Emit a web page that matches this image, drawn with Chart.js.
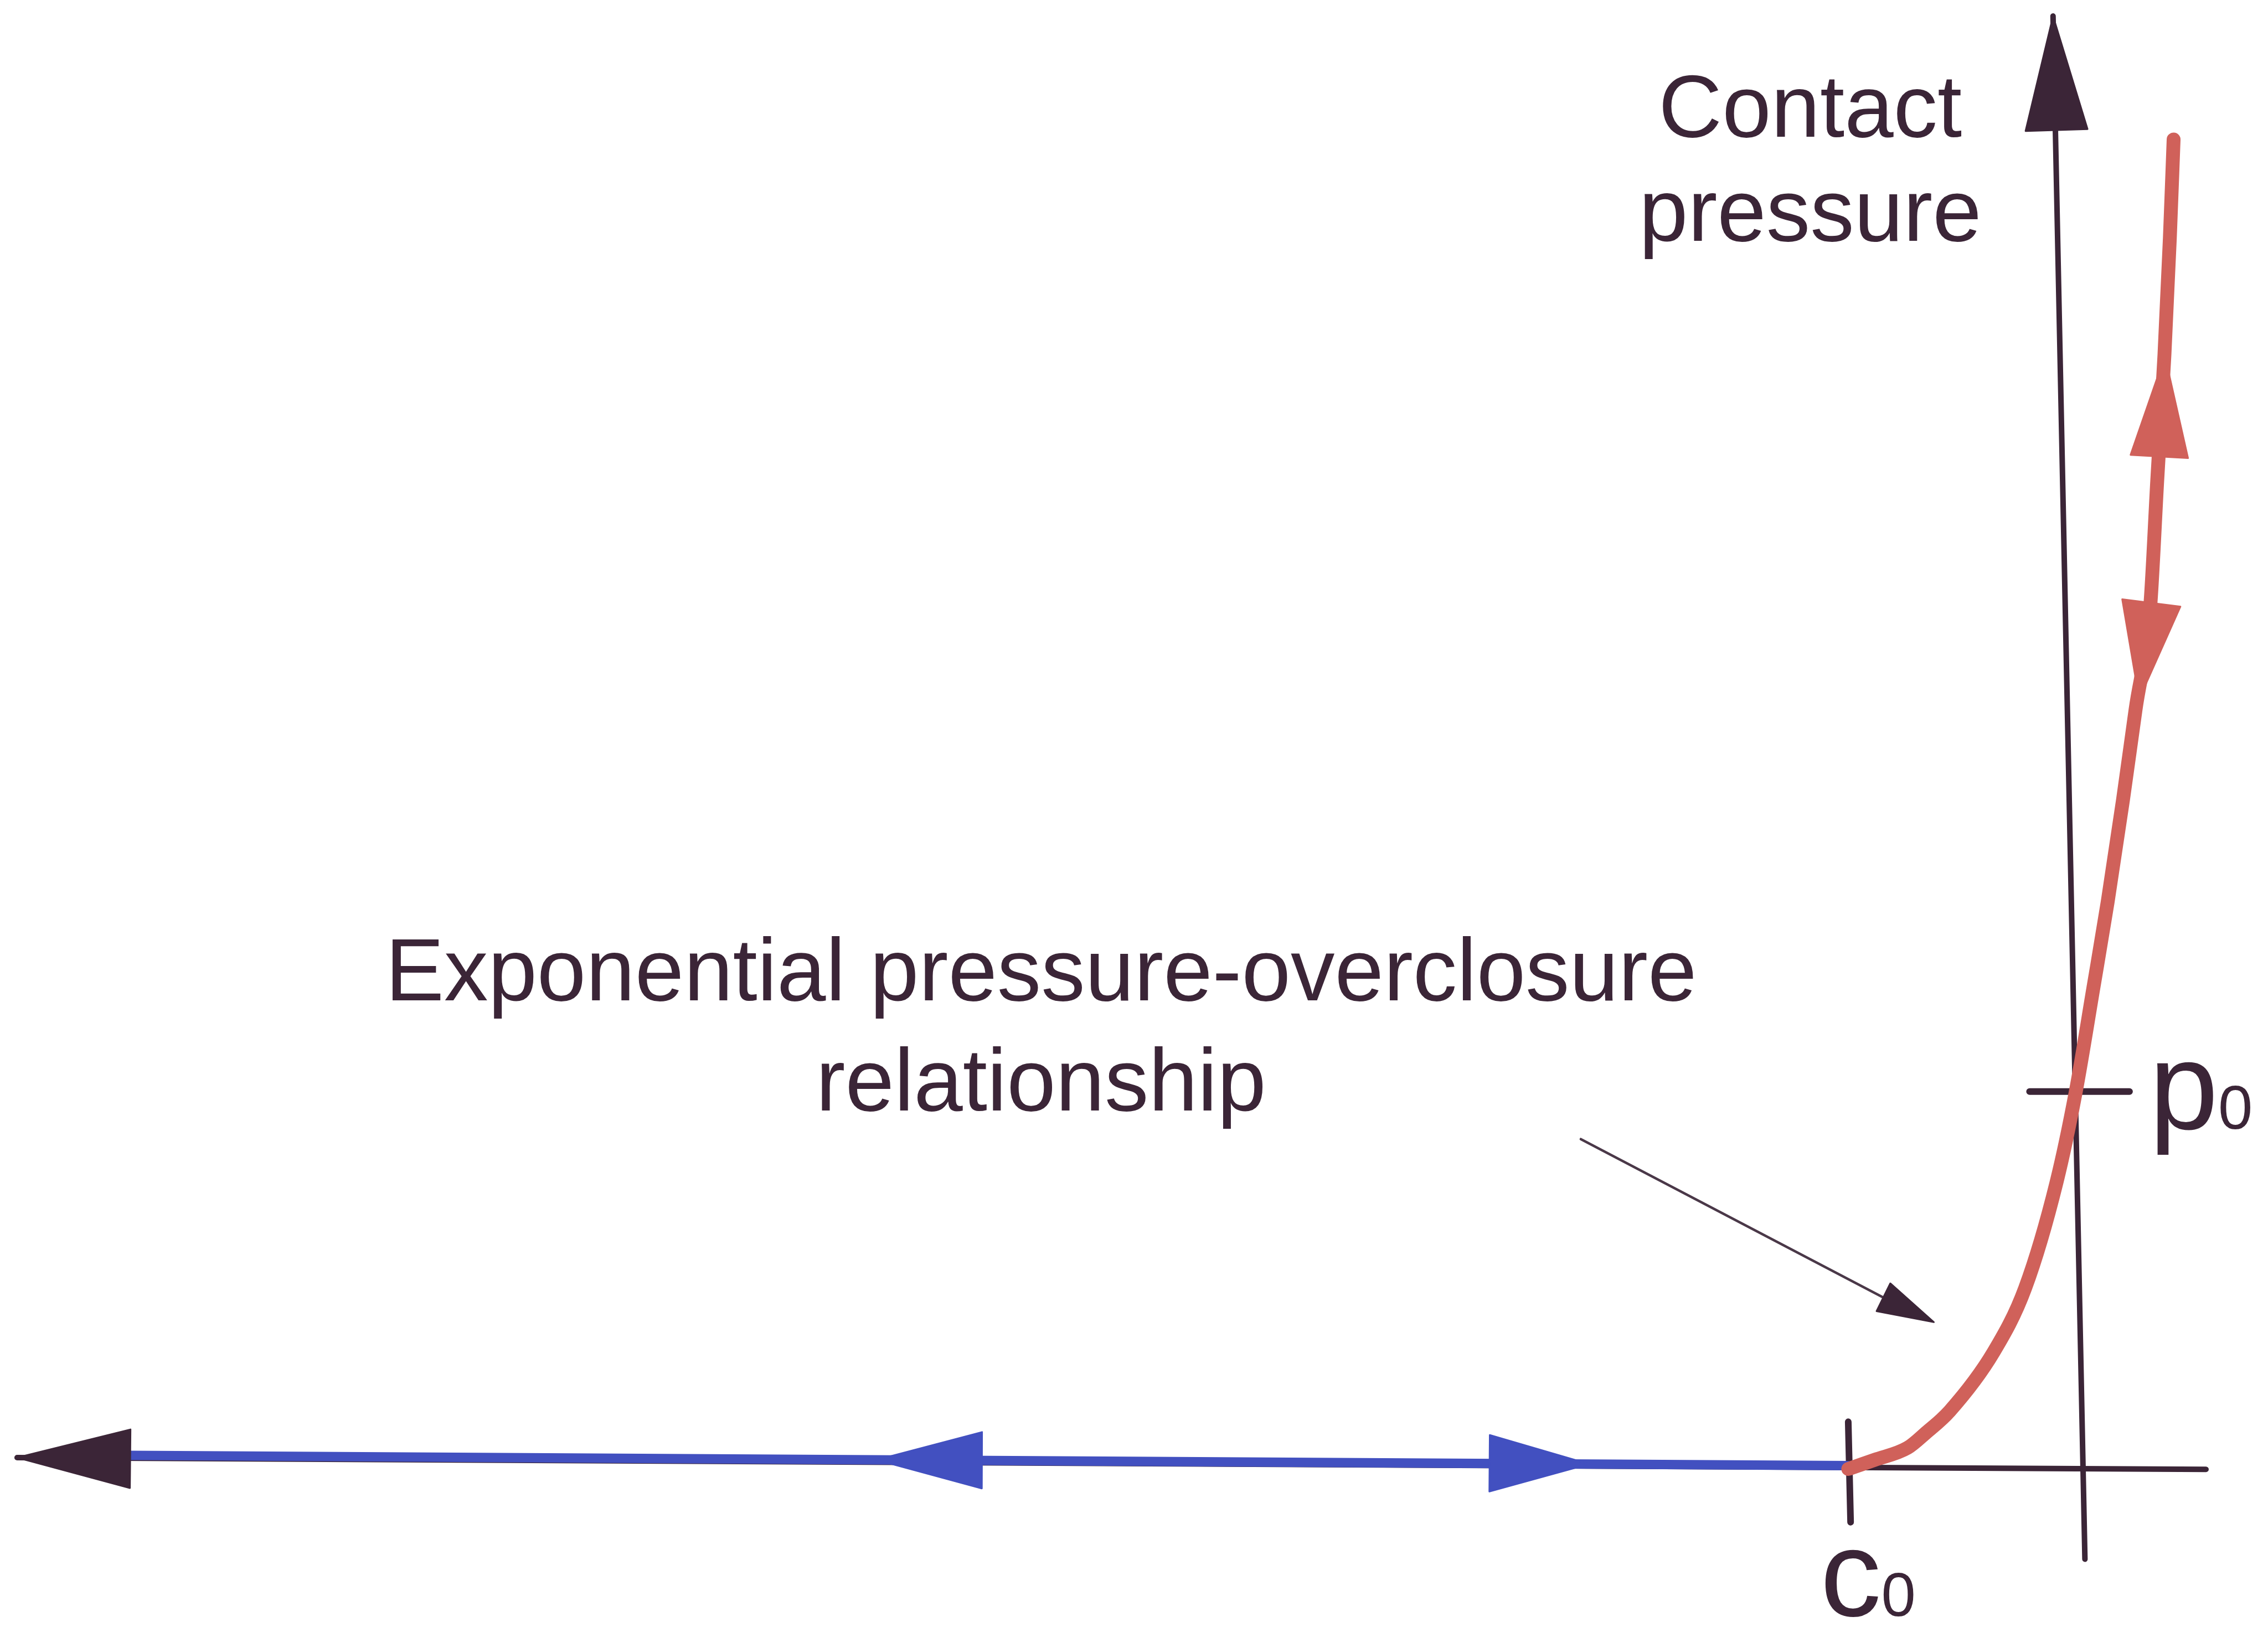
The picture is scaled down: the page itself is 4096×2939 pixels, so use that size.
<!DOCTYPE html>
<html>
<head>
<meta charset="utf-8">
<script src="https://cdn.jsdelivr.net/npm/chart.js@4.4.1/dist/chart.umd.min.js"></script>
<style>
html, body { margin: 0; padding: 0; background: #ffffff; }
canvas { display: block; }
</style>
</head>
<body>
<canvas id="meu_grafico" width="4096" height="2939"></canvas>
<script>
// Unidades: x = sobrefechamento (c0 = -1), y = pressão de contato (p0 = 1)

// Curva exponencial pressão-sobrefechamento (vermelha)
const curvaX = [-1.000, -0.888, -0.747, -0.672, -0.568, -0.380, -0.246, -0.112, -0.030, 0.045, 0.106, 0.171, 0.225, 0.287, 0.317, 0.348, 0.371, 0.387];
const curvaY = [0.000, 0.024, 0.056, 0.094, 0.153, 0.310, 0.479, 0.760, 1.000, 1.275, 1.503, 1.772, 2.013, 2.282, 2.617, 2.953, 3.262, 3.523];

// Trecho separado (azul), pressão zero
const abertoX = [-8.324, -1.000];
const abertoY = [0.036, 0.009];

// Eixos
const eixoHX = [-8.806, 0.525];
const eixoHY = [0.030, -0.001];
const eixoVX = [-0.127, 0.009];
const eixoVY = [3.850, -0.239];

// Marcas c0 e p0
const marcaC0X = [-1.000, -0.990];
const marcaC0Y = [0.125, -0.141];
const marcaP0X = [-0.227, 0.199];
const marcaP0Y = [1.000, 1.000];

// Linha da anotação
const anotacaoX = [-2.140, -0.800];
const anotacaoY = [0.874, 0.438];

// Pontas de seta: ponta e base
const setaPontaX = [-0.127, -8.806, -5.143, -2.104, 0.350, 0.240, -0.635];
const setaPontaY = [3.850, 0.030, 0.024, 0.013, 2.950, 2.040, 0.389];
const setaBaseX = [-0.112, -8.324, -4.693, -2.529, 0.326, 0.292, -0.850];
const setaBaseY = [3.548, 0.027, 0.023, 0.015, 2.683, 2.295, 0.455];

const corEscura = '#3b2537';
const corAzul = '#4250c0';
const corVermelha = '#d0615a';
const fonte = '"Liberation Sans", Arial, sans-serif';

function pontos(xs, ys) {
    return xs.map((x, i) => ({ x: x, y: ys[i] }));
}

function linha(dados, cor, largura, ordem, suave) {
    return {
        data: dados,
        showLine: true,
        borderColor: cor,
        borderWidth: largura,
        borderCapStyle: 'round',
        borderJoinStyle: 'round',
        pointRadius: 0,
        fill: false,
        cubicInterpolationMode: suave ? 'monotone' : 'default',
        tension: suave ? 0.4 : 0,
        order: ordem
    };
}

// Desenha as pontas de seta usando as escalas do gráfico
const pluginSetas = {
    id: 'setas',
    afterDatasetsDraw(chart) {
        const ctx = chart.ctx;
        const sx = chart.scales.x;
        const sy = chart.scales.y;
        const cores = [corEscura, corEscura, corAzul, corAzul, corVermelha, corVermelha, corEscura];
        const meiaLargura = [56, 53, 51, 51, 52, 53, 28];
        ctx.save();
        for (let i = 0; i < setaPontaX.length; i++) {
            const px = sx.getPixelForValue(setaPontaX[i]);
            const py = sy.getPixelForValue(setaPontaY[i]);
            const bx = sx.getPixelForValue(setaBaseX[i]);
            const by = sy.getPixelForValue(setaBaseY[i]);
            const dx = px - bx, dy = py - by;
            const comp = Math.sqrt(dx * dx + dy * dy);
            const nx = -dy / comp, ny = dx / comp;
            const w = meiaLargura[i];
            ctx.beginPath();
            ctx.moveTo(px, py);
            ctx.lineTo(bx + nx * w, by + ny * w);
            ctx.lineTo(bx - nx * w, by - ny * w);
            ctx.closePath();
            ctx.fillStyle = cores[i];
            ctx.lineJoin = 'round';
            ctx.lineWidth = 3;
            ctx.strokeStyle = cores[i];
            ctx.fill();
            ctx.stroke();
        }
        ctx.restore();
    }
};

// Textos ancorados em coordenadas dos dados
const pluginTextos = {
    id: 'textos',
    afterDraw(chart) {
        const ctx = chart.ctx;
        const sx = chart.scales.x;
        const sy = chart.scales.y;
        ctx.save();
        ctx.fillStyle = corEscura;
        ctx.textBaseline = 'alphabetic';

        ctx.font = '159px ' + fonte;
        ctx.textAlign = 'center';
        ctx.fillText('Contact', sx.getPixelForValue(-1.162), sy.getPixelForValue(3.530));
        ctx.fillText('pressure', sx.getPixelForValue(-1.162), sy.getPixelForValue(3.254));
        ctx.fillText('Exponential pressure-overclosure', sx.getPixelForValue(-4.441), sy.getPixelForValue(1.242));
        ctx.fillText('relationship', sx.getPixelForValue(-4.441), sy.getPixelForValue(0.950));

        ctx.textAlign = 'left';
        // p0
        let x0 = sx.getPixelForValue(0.283);
        let y0 = sy.getPixelForValue(0.901);
        ctx.font = '224px ' + fonte;
        ctx.fillText('p', x0, y0);
        let w = ctx.measureText('p').width;
        ctx.font = '112px ' + fonte;
        ctx.fillText('0', x0 + w, y0);
        // c0
        x0 = sx.getPixelForValue(-1.119);
        y0 = sy.getPixelForValue(-0.389);
        ctx.font = '220px ' + fonte;
        ctx.fillText('c', x0, y0);
        w = ctx.measureText('c').width;
        ctx.font = '112px ' + fonte;
        ctx.fillText('0', x0 + w, y0);
        ctx.restore();
    }
};

const ctx = document.getElementById('meu_grafico').getContext('2d');
new Chart(ctx, {
    type: 'scatter',
    data: {
        datasets: [
            linha(pontos(curvaX, curvaY), corVermelha, 25, 1, true),
            linha(pontos(abertoX, abertoY), corAzul, 17, 2),
            linha(pontos(anotacaoX, anotacaoY), '#4a3848', 4.5, 3),
            linha(pontos(marcaC0X, marcaC0Y), corEscura, 12, 4),
            linha(pontos(marcaP0X, marcaP0Y), corEscura, 12, 4),
            linha(pontos(eixoHX, eixoHY), corEscura, 10, 5),
            linha(pontos(eixoVX, eixoVY), corEscura, 10, 5)
        ]
    },
    options: {
        responsive: false,
        animation: false,
        events: [],
        layout: { padding: 0 },
        plugins: {
            legend: { display: false },
            tooltip: { enabled: false }
        },
        scales: {
            x: { type: 'linear', display: false, bounds: 'data', min: -8.879, max: 0.7894 },
            y: { type: 'linear', display: false, bounds: 'data', min: -0.4188, max: 3.8926 }
        }
    },
    plugins: [pluginSetas, pluginTextos]
});
</script>
</body>
</html>
